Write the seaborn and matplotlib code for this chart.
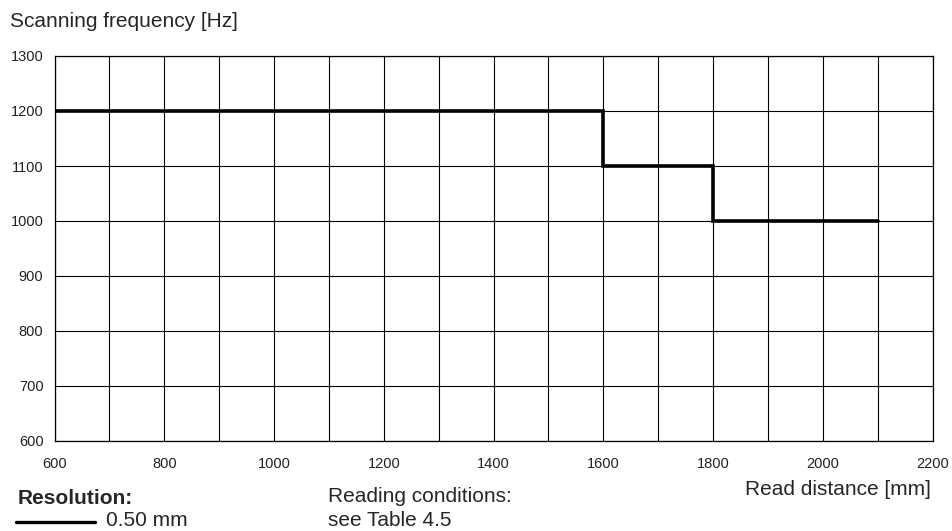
import matplotlib
matplotlib.use("Agg")
import matplotlib.pyplot as plt
import seaborn as sns
import pandas as pd
from matplotlib.lines import Line2D

# data
read_distance = [600, 1600, 1800, 2100]
scan_freq = [1200, 1100, 1000, 1000]
x_ticks = [600, 800, 1000, 1200, 1400, 1600, 1800, 2000, 2200]
y_ticks = [600, 700, 800, 900, 1000, 1100, 1200, 1300]

df = pd.DataFrame({"distance": read_distance, "freq": scan_freq})

sns.set_style("white")
plt.rcParams['font.family'] = ['Liberation Sans', 'DejaVu Sans']

W, H = 952, 531
fig = plt.figure(figsize=(W / 100, H / 100), dpi=100)
ax = fig.add_axes([54.5 / W, 1 - 441 / H, (932.5 - 54.5) / W, (441 - 56) / H])

sns.lineplot(data=df, x="distance", y="freq", ax=ax, color="black",
             linewidth=2.6, drawstyle="steps-post", solid_joinstyle="miter")

ax.set_xlim(600, 2200)
ax.set_ylim(600, 1300)
ax.set_xticks(x_ticks)
ax.set_xticks(range(600, 2201, 100), minor=True)
ax.set_yticks(y_ticks)
ax.set_xticklabels([str(t) for t in x_ticks])
ax.set_yticklabels([str(t) for t in y_ticks])
ax.tick_params(axis="both", which="both", length=0, labelsize=10.5, colors="#222222")
ax.tick_params(axis="y", pad=8)
ax.tick_params(axis="x", pad=11.5)
ax.grid(True, which="both", color="black", linewidth=0.8)
ax.set_axisbelow(True)
for s in ax.spines.values():
    s.set_color("black")
    s.set_linewidth(0.9)
ax.set_xlabel("")
ax.set_ylabel("")

# texts around the plot
def px(x, y):
    return x / W, 1 - y / H

fig.text(*px(10, 27), "Scanning frequency [Hz]", fontsize=15, ha="left", va="baseline")
fig.text(*px(931, 495), "Read distance [mm]", fontsize=15, ha="right", va="baseline")
fig.text(*px(328, 502), "Reading conditions:", fontsize=15, ha="left", va="baseline")
fig.text(*px(328, 526), "see Table 4.5", fontsize=15, ha="left", va="baseline")
fig.text(*px(18, 504), "Resolution:", fontsize=15, fontweight="bold", ha="left", va="baseline")
fig.add_artist(Line2D([16 / W, 95 / W], [1 - 522 / H, 1 - 522 / H], color="black", linewidth=2.4))
fig.text(*px(106, 526), "0.50 mm", fontsize=15, ha="left", va="baseline")

fig.savefig("out.png", dpi=100)
